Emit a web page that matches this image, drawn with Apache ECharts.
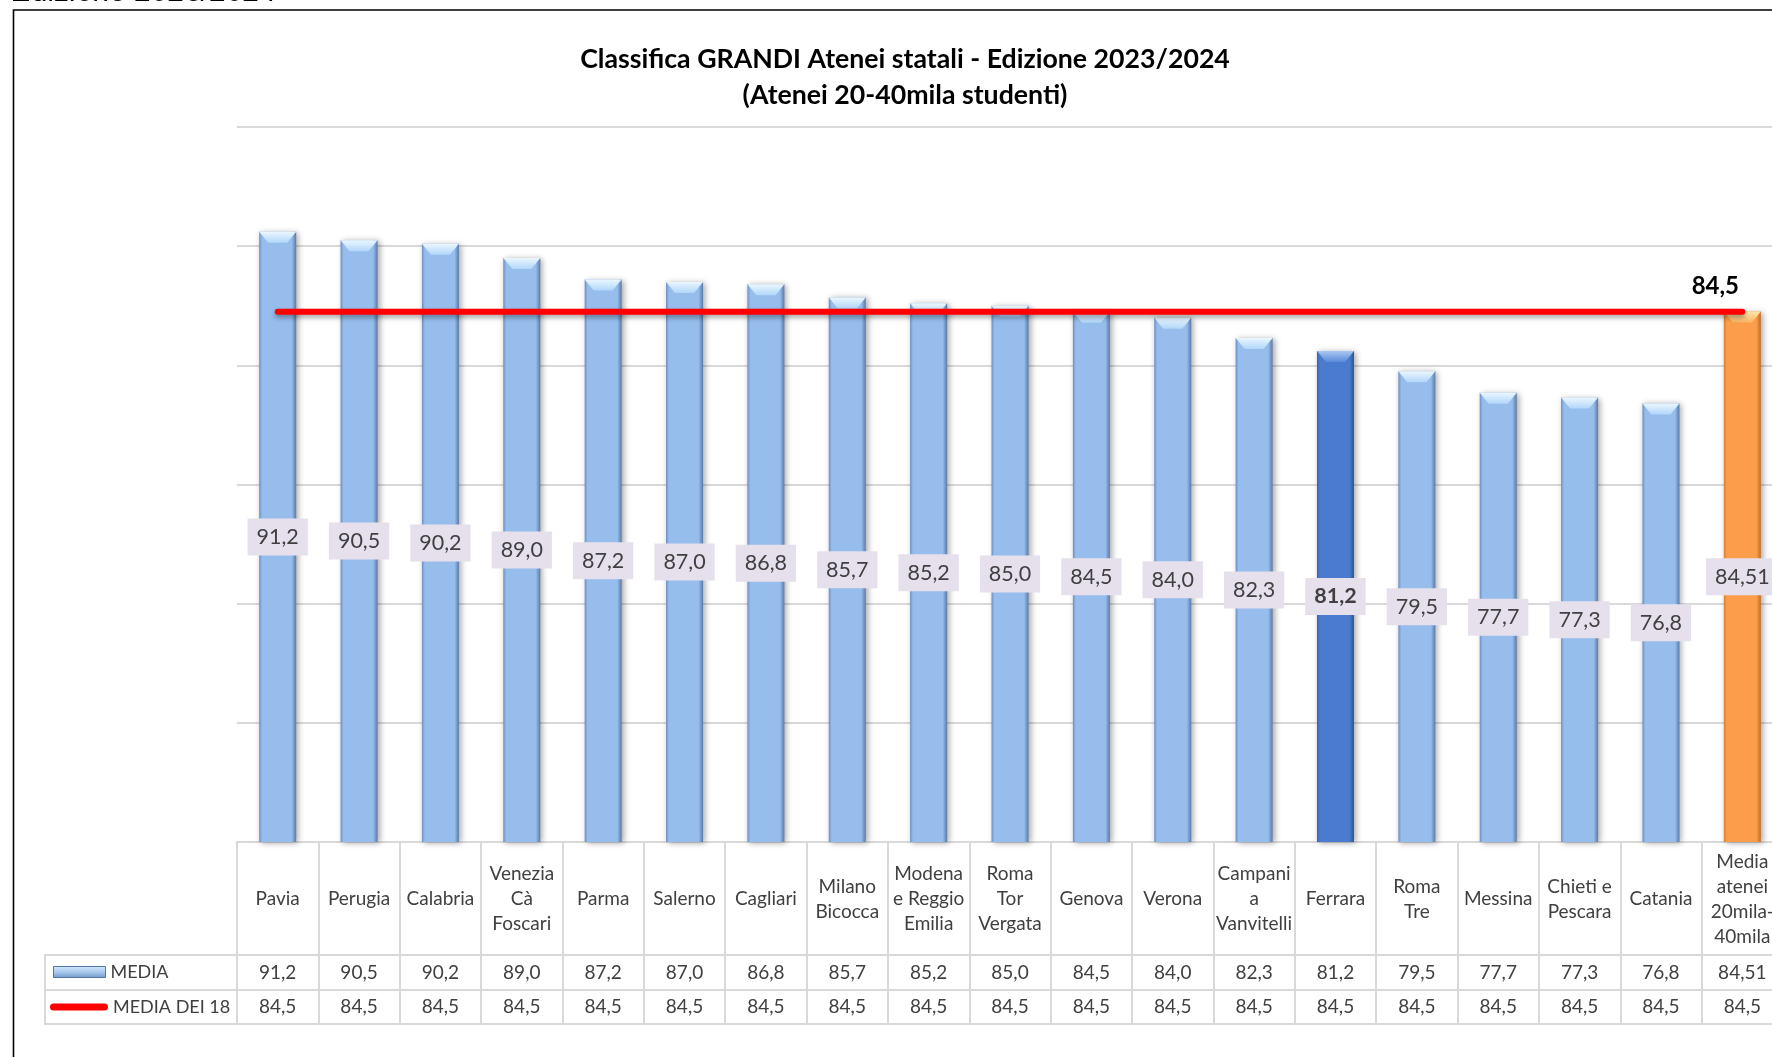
<!DOCTYPE html>
<html><head><meta charset="utf-8">
<script src="https://cdn.jsdelivr.net/npm/echarts@6/dist/echarts.min.js"></script>
<style>html,body{margin:0;padding:0;background:#fff;}#c{width:1772px;height:1057px;}</style>
</head><body><div id="c"></div>
<script>
// ---- data ----
const categories = ['Pavia','Perugia','Calabria','Venezia\nCà\nFoscari','Parma','Salerno','Cagliari','Milano\nBicocca','Modena\ne Reggio\nEmilia','Roma\nTor\nVergata','Genova','Verona','Campani\na\nVanvitelli','Ferrara','Roma\nTre','Messina','Chieti e\nPescara','Catania','Media\natenei\n20mila-\n40mila'];
const mediaValues = [91.2,90.5,90.2,89.0,87.2,87.0,86.8,85.7,85.2,85.0,84.5,84.0,82.3,81.2,79.5,77.7,77.3,76.8,84.51];
const mediaDei18 = [84.5,84.5,84.5,84.5,84.5,84.5,84.5,84.5,84.5,84.5,84.5,84.5,84.5,84.5,84.5,84.5,84.5,84.5,84.5];
const seriesNames = ['MEDIA','MEDIA DEI 18'];
const yMin = 40, yMax = 100, yStep = 10;
const highlightName = 'Ferrara';
const averageName = 'Media\natenei\n20mila-\n40mila';

// ---- helpers ----
function fmt(v){
  const t = v*10;
  return (Math.abs(t - Math.round(t)) < 1e-6 ? v.toFixed(1) : v.toFixed(2)).replace('.', ',');
}
const G = echarts.graphic.LinearGradient;
function hGrad(edgeL, mid, edgeR){
  return new G(0,0,1,0,[
    {offset:0,color:edgeL},{offset:0.08,color:mid},{offset:0.88,color:mid},{offset:1,color:edgeR}
  ]);
}
const styles = {
  normal: {bar: hGrad('#6C8FC2','#96BDEC','#5A7AA8'), bevel: new G(0,0,0,1,[{offset:0,color:'#EAF7FF'},{offset:1,color:'#B2D6FA'}])},
  highlight: {bar: hGrad('#3B64A8','#4A7BCE','#2E5491'), bevel: new G(0,0,0,1,[{offset:0,color:'#A9C6F3'},{offset:1,color:'#5A8AD8'}])},
  average: {bar: hGrad('#D8802F','#FB9D4B','#C06C22'), bevel: new G(0,0,0,1,[{offset:0,color:'#FFE6AE'},{offset:1,color:'#FBB463'}])}
};
function kindOf(i){
  if (categories[i] === highlightName) return 'highlight';
  if (categories[i] === averageName) return 'average';
  return 'normal';
}
const barData = mediaValues.map((v,i)=>({
  value: v,
  itemStyle: {color: styles[kindOf(i)].bar},
  label: kindOf(i)==='highlight' ? {fontWeight:'bold'} : undefined
}));
const bevelData = mediaValues.map((v,i)=>({value: v, itemStyle:{color: styles[kindOf(i)].bevel}}));
const lineData = mediaDei18.map((v,i)=> i === mediaDei18.length-1 ? {
  value: v,
  label: {show:true, position:'top', offset:[-27,-8], formatter: p=>fmt(p.value),
          fontFamily:'Lato', fontWeight:'bold', fontSize:24, color:'#000'}
} : v);

const FONT = 'Lato';
const GRID_LEFT = 237, GRID_TOP = 127, GRID_BOTTOM_Y = 842, GRID_WIDTH = 1546;
const tableLine = {color:'#D9D9D9', width:2};

const chart = echarts.init(document.getElementById('c'), null, {renderer:'canvas'});
chart.setOption({
  backgroundColor:'#fff',
  animation:false,
  title: {
    text:'Classifica GRANDI Atenei statali - Edizione 2023/2024\n(Atenei 20-40mila studenti)',
    left:905, top:41, padding:0, textAlign:'center',
    textStyle:{fontFamily:FONT, fontWeight:'bold', fontSize:26.7, lineHeight:36, color:'#000'}
  },
  legend: [
    {data:[{name:seriesNames[0], icon:'rect', itemStyle:{color:new G(0,0,0,1,[{offset:0,color:'#D3EAFB'},{offset:0.5,color:'#A9CBEF'},{offset:1,color:'#6F96C9'}]), borderColor:'#55789F', borderWidth:1}}],
     left:53, top:962, orient:'vertical', padding:0, itemWidth:52, itemHeight:11,
     textStyle:{fontFamily:FONT, fontSize:18, color:'#404040', lineHeight:20}, selectedMode:false},
    {data:[{name:seriesNames[1], icon:'path://M3.5,0 H54.5 A3.5,3.5 0 0 1 54.5,7 H3.5 A3.5,3.5 0 0 1 3.5,0 Z', itemStyle:{color:'#FF0000'}}],
     left:50, top:997, orient:'vertical', padding:0, itemWidth:58, itemHeight:7,
     textStyle:{fontFamily:FONT, fontSize:18, color:'#404040', lineHeight:20}, selectedMode:false}
  ],
  grid: {left:GRID_LEFT, width:GRID_WIDTH, top:GRID_TOP, bottom:1057-GRID_BOTTOM_Y, containLabel:false, outerBoundsMode:'none'},
  xAxis: [
    {type:'category', data:categories, position:'bottom', boundaryGap:true,
     axisLine:{show:true, lineStyle:tableLine},
     axisTick:{show:true, interval:0, length:183, lineStyle:tableLine},
     axisLabel:{interval:0, margin:57, verticalAlign:'middle', fontFamily:FONT, fontSize:19, lineHeight:25, color:'#404040'}},
    {type:'category', data:mediaValues.map(fmt), position:'bottom', offset:113, boundaryGap:true,
     axisLine:{show:true, lineStyle:tableLine}, axisTick:{show:false},
     axisLabel:{interval:0, margin:18, verticalAlign:'middle', fontFamily:FONT, fontSize:19, color:'#404040'}},
    {type:'category', data:mediaDei18.map(fmt), position:'bottom', offset:148, boundaryGap:true,
     axisLine:{show:true, lineStyle:tableLine}, axisTick:{show:false},
     axisLabel:{interval:0, margin:17, verticalAlign:'middle', fontFamily:FONT, fontSize:19, color:'#404040'}},
    {type:'category', data:categories, position:'bottom', offset:182, boundaryGap:true,
     axisLine:{show:true, lineStyle:tableLine}, axisTick:{show:false}, axisLabel:{show:false}}
  ],
  yAxis: {type:'value', min:yMin, max:yMax, interval:yStep,
    axisLine:{show:false}, axisTick:{show:false}, axisLabel:{show:false},
    splitLine:{show:true, lineStyle:{color:'#D9D9D9', width:2}}},
  series: [
    {name:seriesNames[0], type:'bar', xAxisIndex:0, data:barData, barWidth:37, z:2,
     itemStyle:{color:styles.normal.bar, shadowBlur:6, shadowColor:'rgba(0,0,0,0.35)', shadowOffsetX:2, shadowOffsetY:1},
     label:{show:true, position:'inside', formatter:p=>fmt(p.value), fontFamily:FONT, fontSize:21.5, color:'#404040',
            backgroundColor:'#E6E0EC', padding:[7,9,5,9], lineHeight:25}},
    {name:'bevel', type:'pictorialBar', xAxisIndex:0, data:bevelData, z:3, silent:true,
     symbol:'path://M0,0 L37,0 L28,11 L9,11 Z', symbolSize:[37,11], symbolPosition:'end', symbolOffset:[0,0]},
    {name:seriesNames[1], type:'line', xAxisIndex:0, data:lineData, z:5,
     symbol:'circle', symbolSize:0, showSymbol:true,
     lineStyle:{color:'#FF0000', width:6, cap:'round', shadowBlur:5, shadowColor:'rgba(0,0,0,0.35)', shadowOffsetY:3},
     itemStyle:{color:'#FF0000'}}
  ],
  graphic: [
    {type:'text', left:12, top:-22, silent:true, style:{text:'Edizione 2023/2024', font:'italic 30px "Liberation Sans"', fill:'#000'}},
    {type:'rect', silent:true, shape:{x:13.5, y:10, width:1800, height:1100}, style:{fill:null, stroke:'#000', lineWidth:1.6}},
    {type:'polyline', silent:true, shape:{points:[[GRID_LEFT,955],[45,955],[45,1024],[GRID_LEFT,1024]]}, style:{stroke:'#D9D9D9', lineWidth:2, fill:null}},
    {type:'line', silent:true, shape:{x1:45, y1:990, x2:GRID_LEFT, y2:990}, style:{stroke:'#D9D9D9', lineWidth:2}}
  ]
});
</script></body></html>
